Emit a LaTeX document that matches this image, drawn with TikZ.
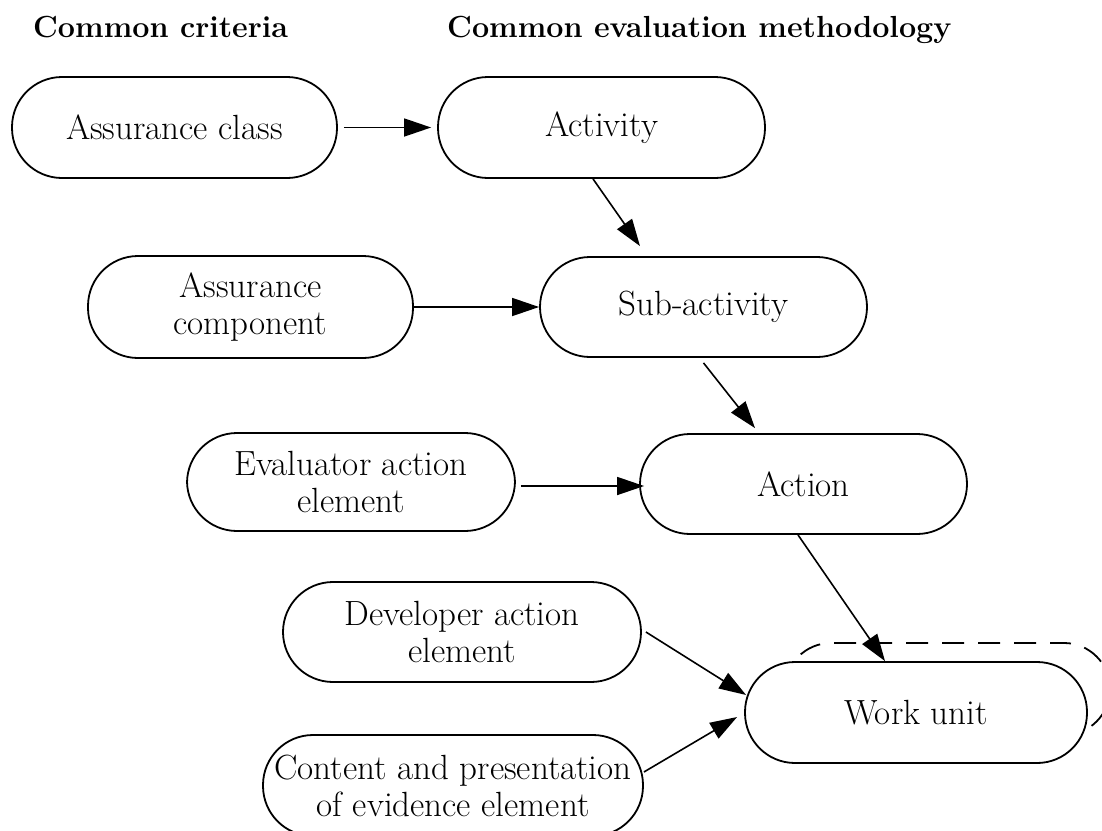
\documentclass[tikz,border=0pt]{standalone}
\usetikzlibrary{arrows.meta,calc}
\tikzset{
  boxnode/.style={draw, line width=1.8pt, rectangle, rounded corners=50pt, fill=white,
    inner sep=0pt, align=center, font=\fontsize{35}{37}\selectfont},
  headnode/.style={anchor=base west, inner sep=0pt, font=\fontsize{30.5}{34}\selectfont\bfseries},
  arr/.style={line width=1.6pt, -{Triangle[length=27pt,width=18pt]}},
  dashbox/.style={draw, line width=1.8pt, dash pattern=on 22pt off 14pt, dash phase=8pt, rectangle, rounded corners=46pt, inner sep=0pt}
}
\begin{document}
\begin{tikzpicture}[x=1pt,y=-1pt]
\useasboundingbox (0,0) rectangle (1102,830);
\clip (0,0) rectangle (1102,830);
\fill[white] (0,0) rectangle (1102,830);

\node[headnode] (h1) at (33,37) {Common criteria};
\node[headnode] (h2) at (447,37) {Common evaluation methodology};

\node[boxnode, minimum width=325pt, minimum height=101pt] (cls) at (174.5,127.5) {Assurance class};
\node[boxnode, minimum width=327pt, minimum height=101pt] (act) at (601.5,127.5) {Activity};
\node[boxnode, minimum width=325pt, minimum height=102pt] (comp) at (250.5,307) {Assurance\\component};
\node[boxnode, minimum width=327pt, minimum height=100pt] (sub) at (703.5,307) {Sub-activity};
\node[boxnode, minimum width=328pt, minimum height=98pt] (eval) at (351,482) {Evaluator action\\element};
\node[boxnode, minimum width=327pt, minimum height=100pt] (action) at (803.5,484) {Action};
\node[boxnode, minimum width=358pt, minimum height=100pt] (dev) at (462,632) {Developer action\\element};
\node[dashbox, minimum width=325pt, minimum height=92pt] (stack) at (947.5,689) {};
\node[boxnode, minimum width=342pt, minimum height=101pt] (work) at (916,712.5) {Work unit};
\node[boxnode, minimum width=380pt, minimum height=101pt] (content) at (453,785.5) {Content and presentation\\of evidence element};

\draw[arr] ($(cls.east)+(6,0)$) -- ($(act.west)+(-6,0)$);
\draw[arr] ($(act.south)+(-8.5,0)$) -- ($(sub.north)+(-63.5,-10)$);
\draw[arr] (comp.east) -- (sub.west);
\draw[arr] ($(sub.south)+(0,5)$) -- ($(action.north)+(-48.5,-5)$);
\draw[arr] ($(eval.east)+(5,4)$) -- ($(action.west)+(5,2)$);
\draw[arr] ($(action.south)+(-5.5,0)$) -- ($(work.north)+(-31,0)$);
\draw[arr] ($(dev.east)+(4,0)$) -- ($(work.west)+(2,-17.5)$);
\draw[arr] ($(content.east)+(0,-13.5)$) -- ($(work.west)+(-7,4.5)$);
\end{tikzpicture}
\end{document}
